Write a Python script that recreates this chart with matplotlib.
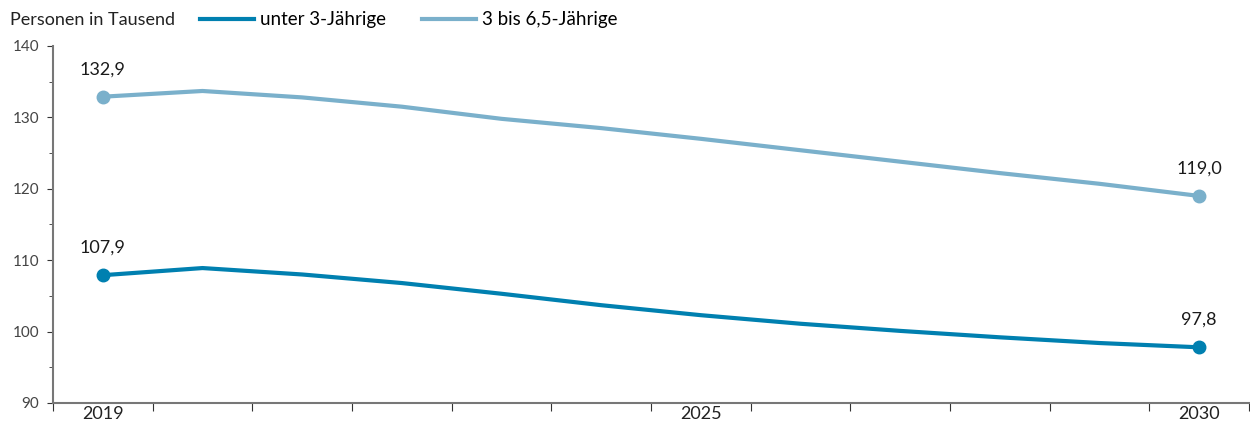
import matplotlib.pyplot as plt
from matplotlib.ticker import MultipleLocator

jahre = list(range(2019, 2031))
unter3 = [107.9, 108.9, 108.0, 106.8, 105.3, 103.7, 102.3, 101.1, 100.1, 99.2, 98.4, 97.8]
drei_bis_65 = [132.9, 133.7, 132.8, 131.5, 129.8, 128.5, 127.0, 125.4, 123.8, 122.2, 120.7, 119.0]
x_labels = {2019: "2019", 2025: "2025", 2030: "2030"}

plt.rcParams['font.family'] = ['Lato', 'DejaVu Sans']

fig = plt.figure(figsize=(12.5, 4.25), dpi=100)
ax = fig.add_axes([53 / 1250, 22 / 425, 1196 / 1250, 357 / 425])

dunkel = "#0080B0"
hell = "#7AB0CB"

l1, = ax.plot(jahre, unter3, color=dunkel, linewidth=3, label="unter 3-Jährige")
l2, = ax.plot(jahre, drei_bis_65, color=hell, linewidth=3, label="3 bis 6,5-Jährige")
ax.plot([jahre[0], jahre[-1]], [unter3[0], unter3[-1]], "o", color=dunkel, markersize=9)
ax.plot([jahre[0], jahre[-1]], [drei_bis_65[0], drei_bis_65[-1]], "o", color=hell, markersize=9)

for serie in (unter3, drei_bis_65):
    for i in (0, -1):
        ax.annotate(f"{serie[i]:.1f}".replace(".", ","), (jahre[i], serie[i]),
                    xytext=(0, 14), textcoords="offset points", ha="center",
                    va="bottom", fontsize=13, color="#1a1a1a")

ax.set_xlim(2018.5, 2030.5)
ax.set_ylim(90, 140)
ax.yaxis.set_major_locator(MultipleLocator(10))
ax.yaxis.set_minor_locator(MultipleLocator(5))
ax.tick_params(axis="y", which="both", direction="out", length=4, color="#333333",
               labelsize=11, labelcolor="#444444", pad=6)
ax.tick_params(axis="y", which="minor", length=3)

ax.set_xticks([j - 0.5 for j in jahre] + [jahre[-1] + 0.5])
ax.set_xticklabels([])
ax.tick_params(axis="x", which="major", direction="out", length=6, color="#333333")
ax.set_xticks(jahre, minor=True)
ax.set_xticklabels([x_labels.get(j, "") for j in jahre], minor=True)
ax.tick_params(axis="x", which="minor", length=0, labelsize=13, labelcolor="#222222", pad=2)

for s in ("top", "right"):
    ax.spines[s].set_visible(False)
for s in ("left", "bottom"):
    ax.spines[s].set_color("#777777")
    ax.spines[s].set_linewidth(1.5)

fig.text(10 / 1250, 1 - 20 / 425, "Personen in Tausend", fontsize=13,
         color="#222222", va="center")
fig.legend(handles=[l1, l2], loc="center left", bbox_to_anchor=(200 / 1250, 1 - 20 / 425),
           ncol=2, frameon=False, fontsize=13.5, handlelength=2.9, handletextpad=0.3,
           columnspacing=1.9, borderaxespad=0, borderpad=0)

fig.savefig("out.png", dpi=100)
